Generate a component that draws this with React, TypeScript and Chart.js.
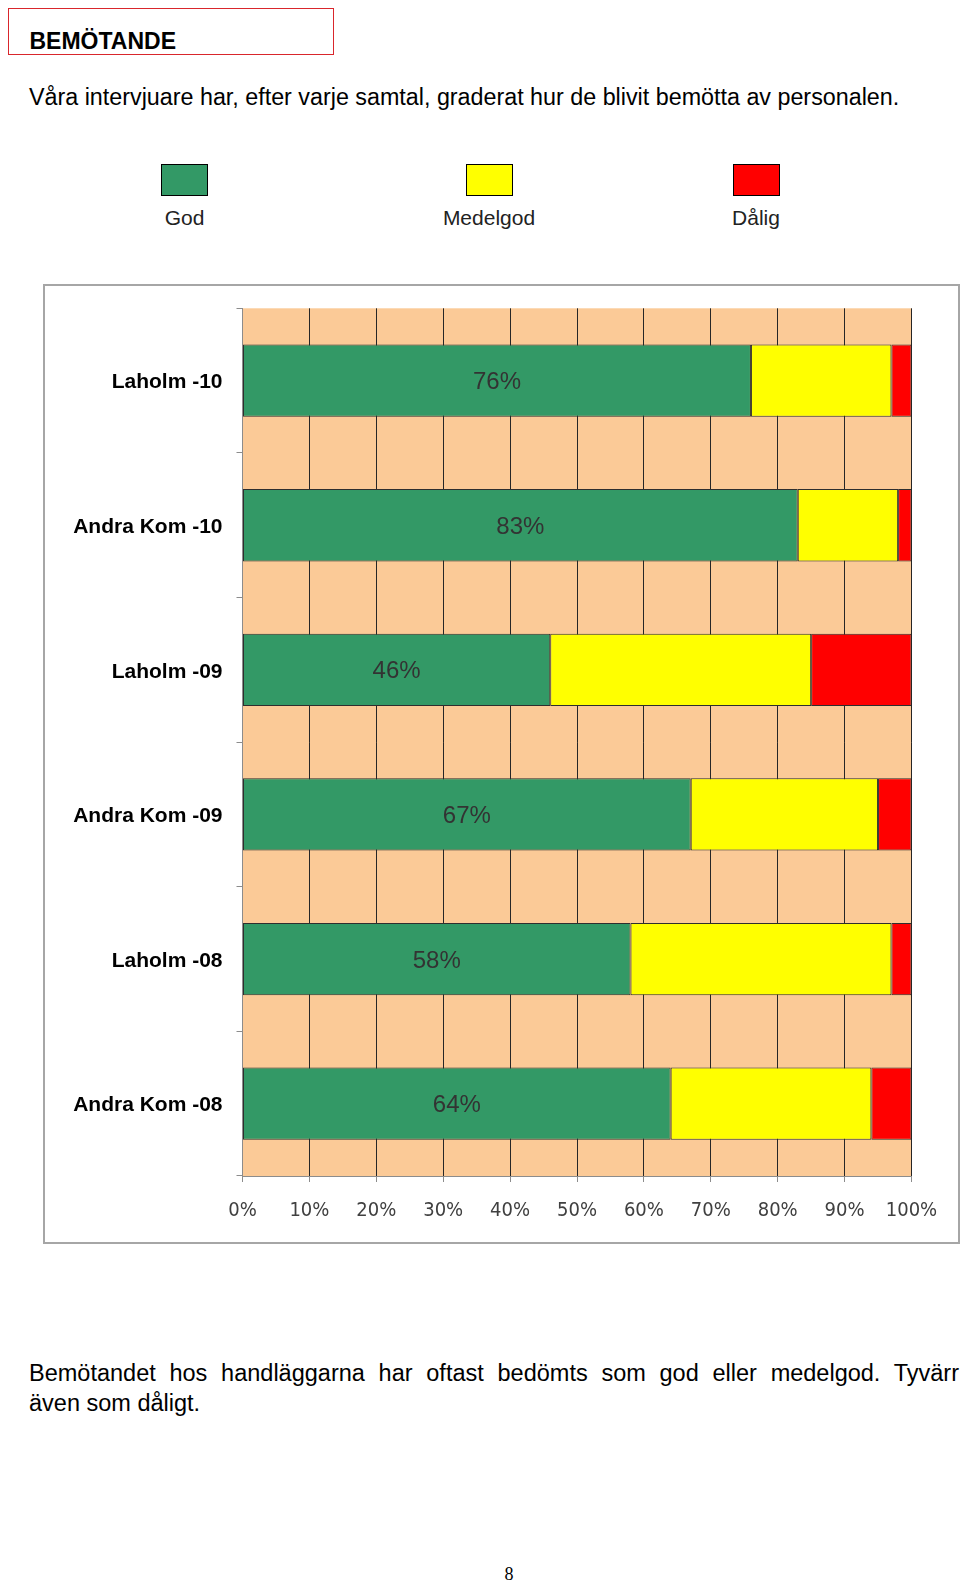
import React, { useEffect, useRef } from 'react';
import { Chart, registerables } from 'chart.js';

Chart.register(...registerables);

const categories = ['Laholm -10', 'Andra Kom -10', 'Laholm -09', 'Andra Kom -09', 'Laholm -08', 'Andra Kom -08'];
const godValues = [76, 83, 46, 67, 58, 64];
const medelgodValues = [21, 15, 39, 28, 39, 30];
const daligValues = [3, 2, 15, 5, 3, 6];
const seriesNames = ['God', 'Medelgod', 'Dålig'];
const seriesColors = ['#339966', '#FFFF00', '#FF0000'];
const xTickValues = [0, 10, 20, 30, 40, 50, 60, 70, 80, 90, 100];

const SANS = '"Liberation Sans", Arial, Helvetica, sans-serif';
const NARROW = '"Liberation Sans Narrow", "DejaVu Sans Condensed", "Liberation Sans", sans-serif';

const plotBackground = {
  id: 'plotBackground',
  beforeDraw(chart: any) {
    const { ctx, chartArea } = chart;
    ctx.save();
    ctx.fillStyle = '#FBCA97';
    ctx.fillRect(chartArea.left, chartArea.top, chartArea.right - chartArea.left, chartArea.bottom - chartArea.top);
    ctx.restore();
  },
};

const godLabels = {
  id: 'godLabels',
  afterDatasetsDraw(chart: any) {
    const { ctx } = chart;
    const meta = chart.getDatasetMeta(0);
    ctx.save();
    ctx.font = `24px ${SANS}`;
    ctx.fillStyle = '#333333';
    ctx.textAlign = 'center';
    ctx.textBaseline = 'middle';
    meta.data.forEach((el: any, i: number) => {
      const p = el.getProps(['x', 'y', 'base'], true);
      ctx.fillText(`${godValues[i]}%`, (p.x + p.base) / 2, p.y + 2);
    });
    ctx.restore();
  },
};

function ChartCanvas() {
  const ref = useRef<HTMLCanvasElement | null>(null);
  useEffect(() => {
    if (!ref.current) return;
    const seriesData = [godValues, medelgodValues, daligValues];
    const chart = new Chart(ref.current, {
      type: 'bar',
      data: {
        labels: categories,
        datasets: seriesNames.map((name, i) => ({
          label: name,
          data: seriesData[i],
          backgroundColor: seriesColors[i],
          borderColor: '#2e2e2e',
          borderWidth: 1,
          borderSkipped: false,
          barPercentage: 0.5,
          categoryPercentage: 1,
        })),
      },
      options: {
        indexAxis: 'y',
        animation: false,
        responsive: false,
        maintainAspectRatio: false,
        layout: { padding: { top: 22.3, right: 45.5, left: 0, bottom: 0 } },
        plugins: { legend: { display: false }, tooltip: { enabled: false } },
        scales: {
          x: {
            stacked: true,
            min: 0,
            max: 100,
            afterBuildTicks: (scale: any) => {
              scale.ticks = xTickValues.map((v) => ({ value: v }));
            },
            afterFit: (scale: any) => {
              scale.height = 65;
            },
            ticks: {
              callback: (v: any) => `${v}%`,
              color: '#404040',
              font: { family: NARROW, size: 20 },
              padding: 17,
              maxRotation: 0,
              autoSkip: false,
            },
            grid: {
              color: (c: any) => (c.tick && c.tick.value === 0 ? '#8c8c8c' : '#262626'),
              lineWidth: 1,
              tickColor: '#8c8c8c',
              tickLength: 6,
              drawTicks: true,
            },
            border: { display: true, color: '#8c8c8c' },
          },
          y: {
            stacked: true,
            afterFit: (scale: any) => {
              scale.width = 197.5;
              scale.paddingTop = 0;
              scale.paddingBottom = 0;
            },
            ticks: {
              color: '#000000',
              font: { family: SANS, size: 21, weight: 'bold' },
              padding: 14,
              labelOffset: 2,
            },
            grid: {
              drawOnChartArea: false,
              drawTicks: true,
              tickLength: 6,
              color: '#8c8c8c',
              offset: true,
            },
            border: { display: true, color: '#8c8c8c' },
          },
        },
      },
      plugins: [plotBackground, godLabels],
    } as any);
    return () => chart.destroy();
  }, []);
  return (
    <canvas
      ref={ref}
      width={912}
      height={955}
      style={{ position: 'absolute', left: 45, top: 286, width: 912, height: 955 }}
    />
  );
}

const legendCenters = [184.5, 489, 756];

export default function App() {
  const textBase: React.CSSProperties = {
    position: 'absolute',
    fontFamily: SANS,
    lineHeight: 1,
    whiteSpace: 'nowrap',
    margin: 0,
  };
  return (
    <div
      style={{
        position: 'absolute',
        left: 0,
        top: 0,
        width: 960,
        height: 1582,
        overflow: 'hidden',
        background: '#ffffff',
      }}
    >
      <div
        style={{
          position: 'absolute',
          left: 8,
          top: 8,
          width: 326,
          height: 47,
          boxSizing: 'border-box',
          border: '1.5px solid #d9262c',
        }}
      />
      <div style={{ ...textBase, left: 29.5, top: 29.5, fontSize: 23, fontWeight: 'bold', color: '#000' }}>BEMÖTANDE</div>
      <div style={{ ...textBase, left: 29, top: 85.5, fontSize: 23.3, color: '#000' }}>
        Våra intervjuare har, efter varje samtal, graderat hur de blivit bemötta av personalen.
      </div>

      {seriesNames.map((name, i) => (
        <React.Fragment key={name}>
          <div
            style={{
              position: 'absolute',
              left: legendCenters[i] - 23.5,
              top: 164,
              width: 47,
              height: 32,
              boxSizing: 'border-box',
              border: '1.5px solid #000',
              background: seriesColors[i],
            }}
          />
          <div
            style={{
              ...textBase,
              left: legendCenters[i] - 100,
              width: 200,
              textAlign: 'center',
              top: 207,
              fontSize: 21,
              color: '#222',
            }}
          >
            {name}
          </div>
        </React.Fragment>
      ))}

      <div
        style={{
          position: 'absolute',
          left: 43,
          top: 284,
          width: 917,
          height: 960,
          boxSizing: 'border-box',
          border: '2px solid #a6a6a6',
          background: '#fff',
        }}
      />
      <ChartCanvas />

      <div
        style={{
          ...textBase,
          left: 29,
          top: 1358,
          width: 930,
          fontSize: 23.5,
          lineHeight: '30px',
          color: '#000',
          whiteSpace: 'normal',
          textAlign: 'justify',
          textAlignLast: 'justify',
        }}
      >
        Bemötandet hos handläggarna har oftast bedömts som god eller medelgod. Tyvärr
      </div>
      <div style={{ ...textBase, left: 29, top: 1388, fontSize: 23.5, lineHeight: '30px', color: '#000' }}>
        även som dåligt.
      </div>

      <div
        style={{
          ...textBase,
          left: 459,
          width: 100,
          textAlign: 'center',
          top: 1565,
          fontSize: 18,
          fontFamily: '"Liberation Serif", "Times New Roman", serif',
          color: '#000',
        }}
      >
        8
      </div>
    </div>
  );
}
